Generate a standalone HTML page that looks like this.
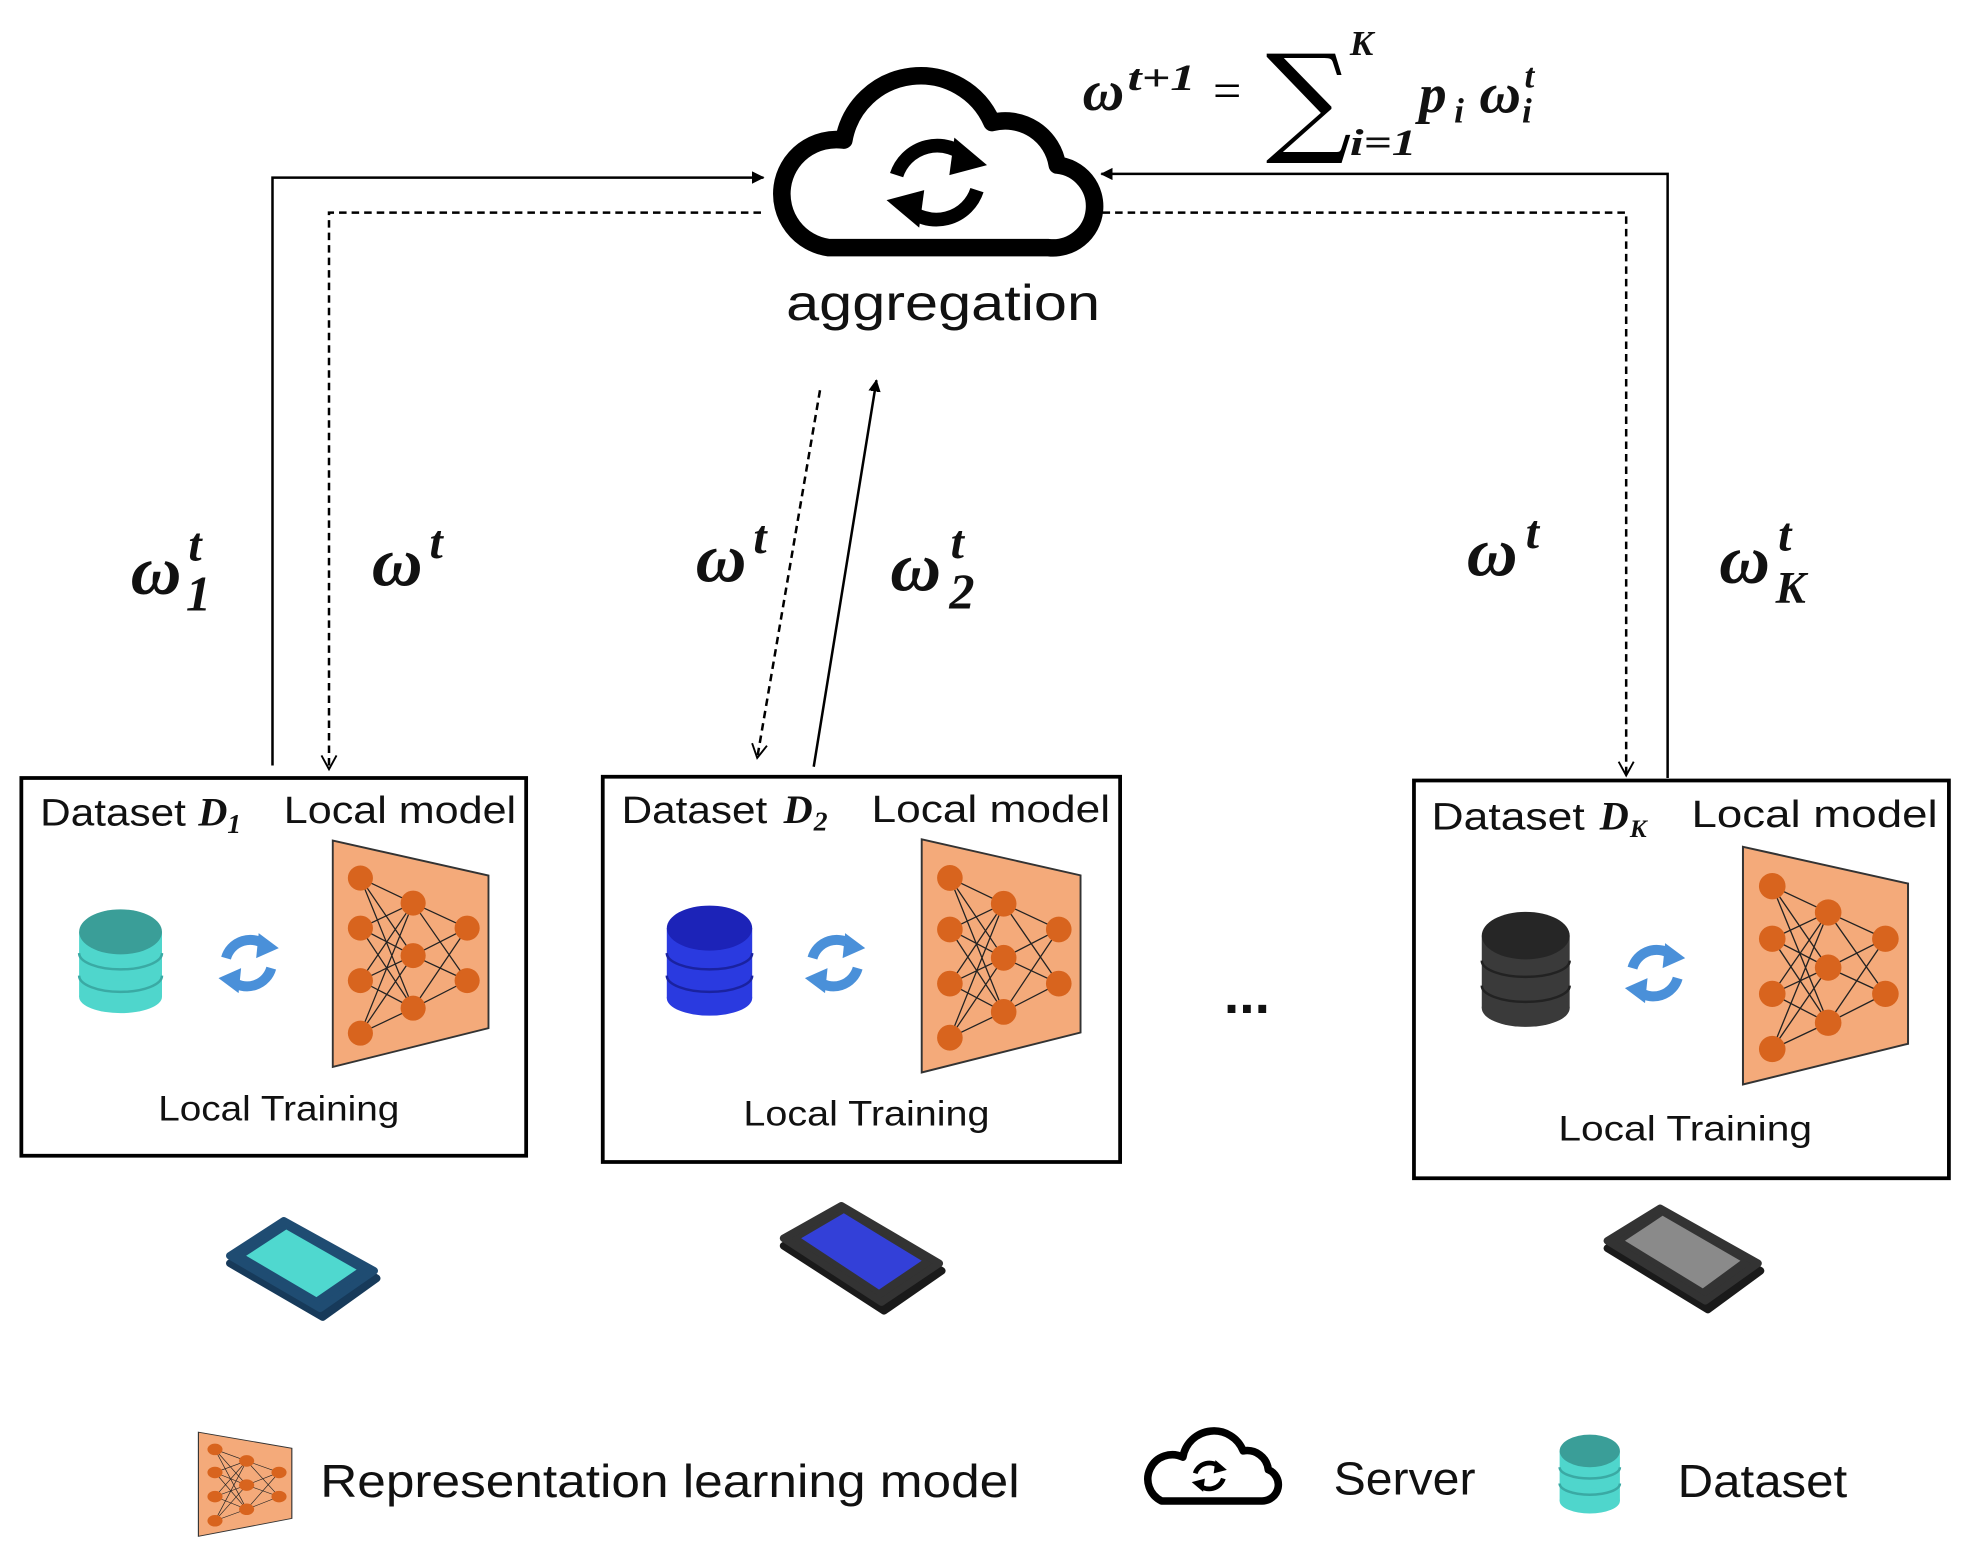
<!DOCTYPE html>
<html><head><meta charset="utf-8"><style>
html,body{margin:0;padding:0;background:#fff;}
svg{display:block;}
.t{font-family:"Liberation Sans",sans-serif;fill:#111;}
.m{font-family:"Liberation Serif",serif;font-style:italic;font-weight:bold;fill:#111;}
</style></head><body>
<svg width="1969" height="1561" viewBox="0 0 1568 1248" preserveAspectRatio="none" xmlns="http://www.w3.org/2000/svg">
<defs>
<marker id="af" markerWidth="10" markerHeight="10" refX="9" refY="5" orient="auto" markerUnits="userSpaceOnUse"><path d="M0,0 L10,5 L0,10 Z" fill="#000" transform="scale(1.4) translate(-3,-1.5)"/></marker>
<marker id="ao" markerWidth="16" markerHeight="16" refX="13" refY="8" orient="auto" markerUnits="userSpaceOnUse"><path d="M2,2 L13,8 L2,14" fill="none" stroke="#000" stroke-width="1.5"/></marker>
<g id="net">
<polygon points="0,0 124,28 124,150 0,181" fill="#f4aa7a" stroke="#333" stroke-width="1.5"/>
<g stroke="#222" stroke-width="1">
<path d="M22,30 L64,50 M22,30 L64,92 M22,30 L64,134 M22,70 L64,50 M22,70 L64,92 M22,70 L64,134 M22,112 L64,50 M22,112 L64,92 M22,112 L64,134 M22,154 L64,50 M22,154 L64,92 M22,154 L64,134 M64,50 L107,70 M64,50 L107,112 M64,92 L107,70 M64,92 L107,112 M64,134 L107,70 M64,134 L107,112"/>
</g>
<g fill="#d8641e">
<circle cx="22" cy="30" r="10"/><circle cx="22" cy="70" r="10"/><circle cx="22" cy="112" r="10"/><circle cx="22" cy="154" r="10"/>
<circle cx="64" cy="50" r="10"/><circle cx="64" cy="92" r="10"/><circle cx="64" cy="134" r="10"/>
<circle cx="107" cy="70" r="10"/><circle cx="107" cy="112" r="10"/>
</g>
</g>
<g id="ref">
<path d="M-18,-4 A20,20 0 0 1 14,-14" fill="none" stroke="#4a90d9" stroke-width="8"/>
<polygon points="8,-24 24,-12 6,-4" fill="#4a90d9"/>
<path d="M18,4 A20,20 0 0 1 -14,14" fill="none" stroke="#4a90d9" stroke-width="8"/>
<polygon points="-8,24 -24,12 -6,4" fill="#4a90d9"/>
</g>
<g id="cyc">
<path d="M-32,-6 A34,34 0 0 1 24,-20" fill="none" stroke="#000" stroke-width="11"/>
<polygon points="14,-36 40,-14 10,-6" fill="#000"/>
<path d="M32,6 A34,34 0 0 1 -24,20" fill="none" stroke="#000" stroke-width="11"/>
<polygon points="-14,36 -40,14 -10,6" fill="#000"/>
</g>
</defs>

<!-- cloud -->
<path d="M660,198 H835 A33,33 0 0 0 842,132 A42,42 0 0 0 790,98 A62,62 0 0 0 672,112 A43,43 0 0 0 660,198 Z" fill="#fff" stroke="#000" stroke-width="14" stroke-linejoin="round"/>
<use href="#cyc" x="746" y="146"/>
<text class="t" x="626" y="256" font-size="40" textLength="250" lengthAdjust="spacingAndGlyphs">aggregation</text>

<!-- formula -->
<text class="m" x="862" y="88" font-size="46">ω</text>
<text class="m" x="898" y="72" font-size="30" textLength="54" lengthAdjust="spacingAndGlyphs">t+1</text>
<text x="966" y="86" font-size="40" font-family="Liberation Serif,serif">=</text>
<text x="1008" y="112" font-size="96" font-family="DejaVu Serif,serif">∑</text>
<text class="m" x="1075" y="44" font-size="28">K</text>
<text class="m" x="1075" y="124" font-size="30" textLength="53" lengthAdjust="spacingAndGlyphs">i=1</text>
<text class="m" x="1130" y="90" font-size="44">p</text>
<text class="m" x="1158" y="98" font-size="28">i</text>
<text class="m" x="1178" y="90" font-size="46">ω</text>
<text class="m" x="1214" y="70" font-size="28">t</text>
<text class="m" x="1212" y="98" font-size="28">i</text>

<!-- connectors -->
<polyline points="217,612 217,142 608,142" fill="none" stroke="#000" stroke-width="2" marker-end="url(#af)"/>
<polyline points="606,170 262,170 262,615" fill="none" stroke="#000" stroke-width="2" stroke-dasharray="6,4" marker-end="url(#ao)"/>
<polyline points="1328,622 1328,139 877,139" fill="none" stroke="#000" stroke-width="2" marker-end="url(#af)"/>
<polyline points="878,170 1295,170 1295,620" fill="none" stroke="#000" stroke-width="2" stroke-dasharray="6,4" marker-end="url(#ao)"/>
<line x1="653" y1="312" x2="603" y2="606" stroke="#000" stroke-width="2" stroke-dasharray="6,4" marker-end="url(#ao)"/>
<line x1="648" y1="613" x2="698" y2="304" stroke="#000" stroke-width="2" marker-end="url(#af)"/>

<!-- omega labels -->
<g class="m">
<text x="104" y="475" font-size="56">ω</text><text x="150" y="448" font-size="38">t</text><text x="148" y="488" font-size="40">1</text>
<text x="296" y="468" font-size="56">ω</text><text x="342" y="446" font-size="38">t</text>
<text x="554" y="465" font-size="56">ω</text><text x="600" y="442" font-size="38">t</text>
<text x="709" y="472" font-size="56">ω</text><text x="757" y="446" font-size="38">t</text><text x="756" y="486" font-size="40">2</text>
<text x="1168" y="460" font-size="56">ω</text><text x="1215" y="438" font-size="38">t</text>
<text x="1369" y="466" font-size="56">ω</text><text x="1416" y="440" font-size="38">t</text><text x="1414" y="482" font-size="36">K</text>
</g>

<!-- boxes -->
<rect x="17" y="622" width="402" height="302" fill="none" stroke="#000" stroke-width="3"/>
<rect x="480" y="621" width="412" height="308" fill="none" stroke="#000" stroke-width="3"/>
<rect x="1126" y="624" width="426" height="318" fill="none" stroke="#000" stroke-width="3"/>

<!-- box1 -->
<text class="t" x="32" y="660" font-size="30" textLength="116" lengthAdjust="spacingAndGlyphs">Dataset</text>
<text class="m" x="158" y="660" font-size="32">D</text><text class="m" x="181" y="666" font-size="22">1</text>
<text class="t" x="226" y="658" font-size="30" textLength="185" lengthAdjust="spacingAndGlyphs">Local model</text>
<g><rect x="63" y="745" width="66" height="52" fill="#4fd6cc"/><ellipse cx="96" cy="797" rx="33" ry="13" fill="#4fd6cc"/>
<path d="M63,762 a33,13 0 0 0 66,0 M63,780 a33,13 0 0 0 66,0" fill="none" stroke="#3aaaa4" stroke-width="2"/>
<ellipse cx="96" cy="745" rx="33" ry="18" fill="#3a9e98"/></g>
<use href="#ref" x="198" y="770"/>
<use href="#net" x="265" y="672"/>
<text class="t" x="126" y="896" font-size="28" textLength="192" lengthAdjust="spacingAndGlyphs">Local Training</text>

<!-- box2 -->
<text class="t" x="495" y="658" font-size="30" textLength="116" lengthAdjust="spacingAndGlyphs">Dataset</text>
<text class="m" x="624" y="658" font-size="32">D</text><text class="m" x="648" y="664" font-size="22">2</text>
<text class="t" x="694" y="657" font-size="30" textLength="190" lengthAdjust="spacingAndGlyphs">Local model</text>
<g><rect x="531" y="742" width="68" height="56" fill="#2a3ae0"/><ellipse cx="565" cy="798" rx="34" ry="14" fill="#2a3ae0"/>
<path d="M531,762 a34,13 0 0 0 68,0 M531,780 a34,13 0 0 0 68,0" fill="none" stroke="#1a22a0" stroke-width="2"/>
<ellipse cx="565" cy="742" rx="34" ry="18" fill="#1c23b8"/></g>
<use href="#ref" x="665" y="770"/>
<use href="#net" transform="translate(734,671) scale(1.02,1.03)"/>
<text class="t" x="592" y="900" font-size="28" textLength="196" lengthAdjust="spacingAndGlyphs">Local Training</text>

<!-- box3 -->
<text class="t" x="1140" y="663" font-size="30" textLength="122" lengthAdjust="spacingAndGlyphs">Dataset</text>
<text class="m" x="1274" y="663" font-size="32">D</text><text class="m" x="1298" y="669" font-size="20">K</text>
<text class="t" x="1347" y="661" font-size="30" textLength="196" lengthAdjust="spacingAndGlyphs">Local model</text>
<g><rect x="1180" y="748" width="70" height="58" fill="#3a3a3a"/><ellipse cx="1215" cy="806" rx="35" ry="15" fill="#3a3a3a"/>
<path d="M1180,768 a35,13 0 0 0 70,0 M1180,788 a35,13 0 0 0 70,0" fill="none" stroke="#222" stroke-width="2"/>
<ellipse cx="1215" cy="748" rx="35" ry="19" fill="#262626"/></g>
<use href="#ref" x="1318" y="778"/>
<use href="#net" transform="translate(1388,677) scale(1.06,1.05)"/>
<text class="t" x="1241" y="912" font-size="28" textLength="202" lengthAdjust="spacingAndGlyphs">Local Training</text>

<text class="t" x="993" y="810" font-size="44" text-anchor="middle" font-weight="bold">...</text>

<!-- phones -->
<g stroke-linejoin="round">
<polygon points="183,1010 226,980 300,1022 257,1053" fill="#173a5a" stroke="#173a5a" stroke-width="6"/>
<polygon points="183,1004 226,976 298,1016 255,1046" fill="#1f4c72" stroke="#1f4c72" stroke-width="6"/>
<polygon points="196,1004 228,983 284,1015 252,1037" fill="#4fd8cf"/>
</g>
<g stroke-linejoin="round">
<polygon points="624,996 670,968 750,1016 704,1048" fill="#1a1a1a" stroke="#1a1a1a" stroke-width="6"/>
<polygon points="624,990 670,964 748,1010 702,1041" fill="#333" stroke="#333" stroke-width="6"/>
<polygon points="638,990 672,970 734,1008 700,1031" fill="#3340d8"/>
</g>
<g stroke-linejoin="round">
<polygon points="1280,998 1322,970 1402,1016 1360,1047" fill="#1a1a1a" stroke="#1a1a1a" stroke-width="6"/>
<polygon points="1280,992 1322,966 1400,1010 1358,1040" fill="#333" stroke="#333" stroke-width="6"/>
<polygon points="1294,992 1324,972 1386,1008 1356,1030" fill="#8a8a8a"/>
</g>

<!-- legend -->
<use href="#net" transform="translate(158,1145) scale(0.6,0.46)"/>
<text class="t" x="255" y="1197" font-size="37" textLength="557" lengthAdjust="spacingAndGlyphs">Representation learning model</text>
<path d="M925,1200 H1005 A13,13 0 0 0 1010,1175 A17,17 0 0 0 990,1160 A25,25 0 0 0 942,1165 A17,17 0 0 0 925,1200 Z" fill="#fff" stroke="#000" stroke-width="6" stroke-linejoin="round"/>
<use href="#cyc" transform="translate(963,1180) scale(0.35)"/>
<text class="t" x="1062" y="1195" font-size="37" textLength="113" lengthAdjust="spacingAndGlyphs">Server</text>
<g><rect x="1242" y="1160" width="48" height="40" fill="#4fd6cc"/><ellipse cx="1266" cy="1200" rx="24" ry="10" fill="#4fd6cc"/>
<path d="M1242,1173 a24,9 0 0 0 48,0 M1242,1186 a24,9 0 0 0 48,0" fill="none" stroke="#3aaaa4" stroke-width="2"/>
<ellipse cx="1266" cy="1160" rx="24" ry="13" fill="#3a9e98"/></g>
<text class="t" x="1336" y="1197" font-size="37" textLength="135" lengthAdjust="spacingAndGlyphs">Dataset</text>
</svg>
</body></html>
